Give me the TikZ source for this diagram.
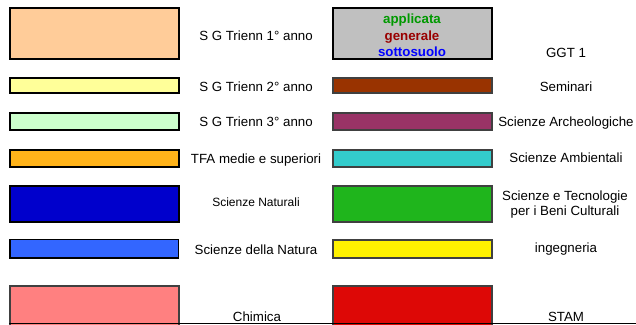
\documentclass[tikz,border=0pt]{standalone}
\usepackage{fontspec}
\setmainfont{Liberation Sans}
\definecolor{c1}{HTML}{FFCC99}
\definecolor{c2}{HTML}{FFFF99}
\definecolor{c3}{HTML}{CCFFCC}
\definecolor{c4}{HTML}{FFB31A}
\definecolor{c5}{HTML}{0000CC}
\definecolor{c6}{HTML}{3366FF}
\definecolor{c7}{HTML}{FF8080}
\definecolor{d1}{HTML}{C0C0C0}
\definecolor{d2}{HTML}{993300}
\definecolor{d3}{HTML}{993366}
\definecolor{d4}{HTML}{33CCCC}
\definecolor{d5}{HTML}{1FB51C}
\definecolor{d6}{HTML}{FFF200}
\definecolor{d7}{HTML}{DD0806}
\definecolor{gborder}{HTML}{404040}
\definecolor{tgreen}{HTML}{009900}
\definecolor{tred}{HTML}{990000}
\definecolor{tblue}{HTML}{0000FF}
\tikzset{
  lbox/.style={draw=black, line width=2pt},
  rbox/.style={draw=gborder, line width=2pt},
  lbl/.style={anchor=base, inner sep=0pt, font=\fontsize{13.3}{15.7}\selectfont, text=black},
  inl/.style={anchor=base, inner sep=0pt, font=\fontsize{13.3}{15.7}\selectfont\bfseries},
}
\begin{document}
\begin{tikzpicture}[x=1pt,y=-1pt]
\useasboundingbox (0,0) rectangle (636,324);
\begin{scope}
\clip (0,0) rectangle (636,324);
% left column
\draw[lbox, fill=c1] (10,7.7) rectangle (178.5,59.3);
\draw[lbox, fill=c2] (10,78.3) rectangle (178.5,93.3);
\draw[lbox, fill=c3] (10,112.5) rectangle (178.5,129.5);
\draw[lbox, fill=c4] (10,149.5) rectangle (178.5,166.5);
\draw[lbox, fill=c5] (10,185.5) rectangle (178.5,221.5);
\draw[lbox, fill=c6, line width=1.4pt] (10,239.5) rectangle (178.5,258);
\draw[rbox, fill=c7] (10,286) rectangle (178.5,330);
% right column
\draw[lbox, fill=d1] (333,7.7) rectangle (491.5,59.3);
\draw[rbox, fill=d2] (333,78.3) rectangle (491.5,93.3);
\draw[rbox, fill=d3] (333,112.5) rectangle (491.5,129.5);
\draw[rbox, fill=d4] (333,149.5) rectangle (491.5,166.5);
\draw[rbox, fill=d5] (333,185.5) rectangle (491.5,221.5);
\draw[rbox, fill=d6] (333,239.5) rectangle (491.5,258);
\draw[rbox, fill=d7] (333,286) rectangle (491.5,330);
\end{scope}
\draw[black, line width=1.2pt] (9,323.2) -- (636,323.2);
% inner labels
\node[inl, text=tgreen] (ia) at (412,23.3) {applicata};
\node[inl, text=tred] (ig) at (412,40.7) {generale};
\node[inl, text=tblue] (is) at (412,56.7) {sottosuolo};
% left labels
\node[lbl] (l1) at (256,40) {S G Trienn 1° anno};
\node[lbl] (l2) at (256,91) {S G Trienn 2° anno};
\node[lbl] (l3) at (256,126.7) {S G Trienn 3° anno};
\node[lbl] (l4) at (256,163) {TFA medie e superiori};
\node[lbl, font=\fontsize{12}{14}\selectfont] (l5) at (256,206) {Scienze Naturali};
\node[lbl] (l6) at (256,254.3) {Scienze della Natura};
\node[lbl] (l7) at (257,321.7) {Chimica};
% right labels
\node[lbl] (r1) at (566,57.3) {GGT 1};
\node[lbl] (r2) at (566,91) {Seminari};
\node[lbl] (r3) at (566,126.7) {Scienze Archeologiche};
\node[lbl] (r4) at (566,162.7) {Scienze Ambientali};
\node[lbl] (r5a) at (565,200) {Scienze e Tecnologie};
\node[lbl] (r5b) at (565,215.7) {per i Beni Culturali};
\node[lbl] (r6) at (566,252.3) {ingegneria};
\node[lbl] (r7) at (566,321.7) {STAM};
\end{tikzpicture}
\end{document}
